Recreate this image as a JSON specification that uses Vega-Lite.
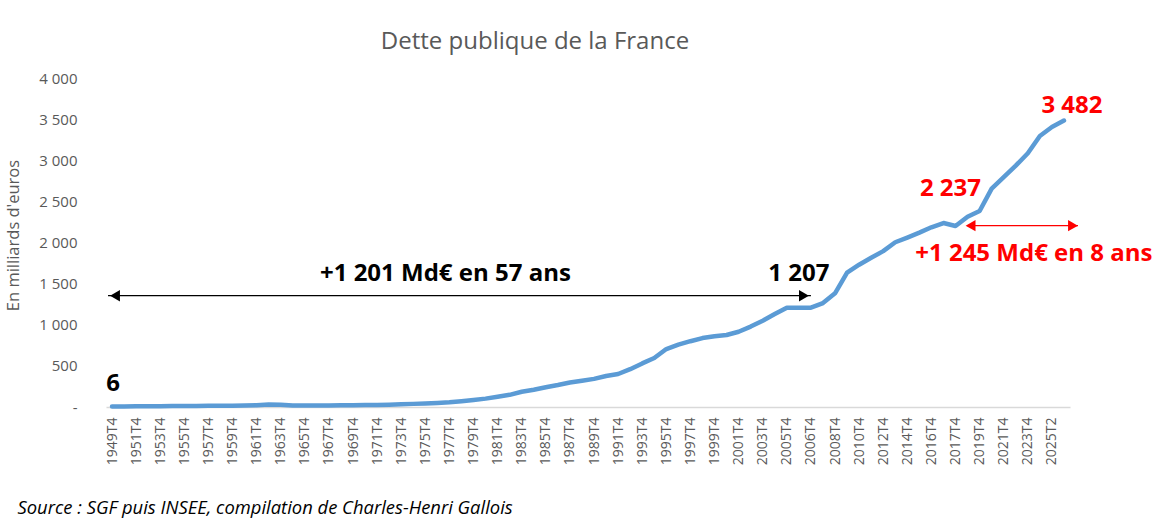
{
  "$schema": "https://vega.github.io/schema/vega-lite/v6.json",
  "width": 964,
  "height": 329,
  "autosize": {"type": "none"},
  "padding": {"left": 106, "top": 78, "right": 91, "bottom": 115},
  "background": "white",
  "config": {"view": {"stroke": null}, "font": "Open Sans"},
  "title": {
    "text": "Dette publique de la France",
    "font": "Open Sans",
    "fontSize": 24,
    "fontWeight": "normal",
    "color": "#595959",
    "anchor": "middle",
    "dx": -53,
    "offset": 17
  },
  "datasets": {
    "dette": [
      {"periode": "1949T4", "valeur": 6},
      {"periode": "1950T4", "valeur": 7},
      {"periode": "1951T4", "valeur": 8},
      {"periode": "1952T4", "valeur": 9},
      {"periode": "1953T4", "valeur": 10},
      {"periode": "1954T4", "valeur": 11},
      {"periode": "1955T4", "valeur": 12},
      {"periode": "1956T4", "valeur": 13},
      {"periode": "1957T4", "valeur": 14},
      {"periode": "1958T4", "valeur": 15},
      {"periode": "1959T4", "valeur": 16},
      {"periode": "1960T4", "valeur": 18},
      {"periode": "1961T4", "valeur": 22},
      {"periode": "1962T4", "valeur": 30},
      {"periode": "1963T4", "valeur": 26},
      {"periode": "1964T4", "valeur": 18},
      {"periode": "1965T4", "valeur": 17},
      {"periode": "1966T4", "valeur": 18},
      {"periode": "1967T4", "valeur": 19},
      {"periode": "1968T4", "valeur": 20},
      {"periode": "1969T4", "valeur": 22},
      {"periode": "1970T4", "valeur": 23},
      {"periode": "1971T4", "valeur": 24},
      {"periode": "1972T4", "valeur": 28},
      {"periode": "1973T4", "valeur": 33},
      {"periode": "1974T4", "valeur": 38},
      {"periode": "1975T4", "valeur": 44},
      {"periode": "1976T4", "valeur": 50},
      {"periode": "1977T4", "valeur": 58},
      {"periode": "1978T4", "valeur": 70},
      {"periode": "1979T4", "valeur": 85},
      {"periode": "1980T4", "valeur": 102},
      {"periode": "1981T4", "valeur": 125},
      {"periode": "1982T4", "valeur": 148},
      {"periode": "1983T4", "valeur": 185},
      {"periode": "1984T4", "valeur": 210},
      {"periode": "1985T4", "valeur": 240},
      {"periode": "1986T4", "valeur": 267},
      {"periode": "1987T4", "valeur": 298},
      {"periode": "1988T4", "valeur": 320},
      {"periode": "1989T4", "valeur": 342},
      {"periode": "1990T4", "valeur": 377},
      {"periode": "1991T4", "valeur": 401},
      {"periode": "1992T4", "valeur": 460},
      {"periode": "1993T4", "valeur": 530},
      {"periode": "1994T4", "valeur": 595},
      {"periode": "1995T4", "valeur": 705},
      {"periode": "1996T4", "valeur": 758},
      {"periode": "1997T4", "valeur": 800},
      {"periode": "1998T4", "valeur": 838},
      {"periode": "1999T4", "valeur": 860},
      {"periode": "2000T4", "valeur": 875},
      {"periode": "2001T4", "valeur": 915},
      {"periode": "2002T4", "valeur": 978},
      {"periode": "2003T4", "valeur": 1049},
      {"periode": "2004T4", "valeur": 1130},
      {"periode": "2005T4", "valeur": 1207},
      {"periode": "2006T2", "valeur": 1207},
      {"periode": "2006T4", "valeur": 1207},
      {"periode": "2007T4", "valeur": 1263},
      {"periode": "2008T4", "valeur": 1382},
      {"periode": "2009T4", "valeur": 1633},
      {"periode": "2010T4", "valeur": 1730},
      {"periode": "2011T4", "valeur": 1815},
      {"periode": "2012T4", "valeur": 1895},
      {"periode": "2013T4", "valeur": 2003},
      {"periode": "2014T4", "valeur": 2060},
      {"periode": "2015T4", "valeur": 2120},
      {"periode": "2016T4", "valeur": 2185},
      {"periode": "2017T2", "valeur": 2237},
      {"periode": "2017T4", "valeur": 2201},
      {"periode": "2018T4", "valeur": 2314},
      {"periode": "2019T4", "valeur": 2383},
      {"periode": "2020T4", "valeur": 2655},
      {"periode": "2021T4", "valeur": 2795},
      {"periode": "2022T4", "valeur": 2935},
      {"periode": "2023T4", "valeur": 3085},
      {"periode": "2024T4", "valeur": 3295},
      {"periode": "2025T2", "valeur": 3405},
      {"periode": "2025T3", "valeur": 3482}
    ],
    "fleches": [
      {"debut": "1949T4", "fin": "2006T4", "niveau": 1353, "groupe": "1949-2006"},
      {"debut": "2018T4", "fin": "2025T3", "niveau": 2205, "groupe": "2017-2025"}
    ],
    "etiquettes": [
      {"periode": "1949T4", "valeur": 6, "texte": "6", "groupe": "1949-2006"},
      {"periode": "2006T4", "valeur": 1207, "texte": "1 207", "groupe": "1949-2006"},
      {"periode": "1977T4", "valeur": 1353, "texte": "+1 201 Md€ en 57 ans", "groupe": "1949-2006"},
      {"periode": "2017T2", "valeur": 2237, "texte": "2 237", "groupe": "2017-2025"},
      {"periode": "2025T3", "valeur": 3482, "texte": "3 482", "groupe": "2017-2025"},
      {"periode": "2023T4", "valeur": 2205, "texte": "+1 245 Md€ en 8 ans", "groupe": "2017-2025"}
    ]
  },
  "encoding": {
    "x": {
      "type": "ordinal",
      "scale": {
        "type": "point",
        "padding": 0.5,
        "domain": ["1949T4","1950T4","1951T4","1952T4","1953T4","1954T4","1955T4","1956T4","1957T4","1958T4","1959T4","1960T4","1961T4","1962T4","1963T4","1964T4","1965T4","1966T4","1967T4","1968T4","1969T4","1970T4","1971T4","1972T4","1973T4","1974T4","1975T4","1976T4","1977T4","1978T4","1979T4","1980T4","1981T4","1982T4","1983T4","1984T4","1985T4","1986T4","1987T4","1988T4","1989T4","1990T4","1991T4","1992T4","1993T4","1994T4","1995T4","1996T4","1997T4","1998T4","1999T4","2000T4","2001T4","2002T4","2003T4","2004T4","2005T4","2006T2","2006T4","2007T4","2008T4","2009T4","2010T4","2011T4","2012T4","2013T4","2014T4","2015T4","2016T4","2017T2","2017T4","2018T4","2019T4","2020T4","2021T4","2022T4","2023T4","2024T4","2025T2","2025T3"]
      }
    }
  },
  "layer": [
    {
      "data": {"name": "dette"},
      "mark": {"type": "line", "color": "#5b9bd5", "strokeWidth": 4.5, "strokeCap": "round", "strokeJoin": "round"},
      "encoding": {
        "x": {
          "field": "periode",
          "type": "ordinal",
          "axis": {
            "values": ["1949T4","1951T4","1953T4","1955T4","1957T4","1959T4","1961T4","1963T4","1965T4","1967T4","1969T4","1971T4","1973T4","1975T4","1977T4","1979T4","1981T4","1983T4","1985T4","1987T4","1989T4","1991T4","1993T4","1995T4","1997T4","1999T4","2001T4","2003T4","2005T4","2006T4","2008T4","2010T4","2012T4","2014T4","2016T4","2017T4","2019T4","2021T4","2023T4","2025T2"],
            "labelAngle": 270,
            "labelAlign": "right",
            "labelBaseline": "middle",
            "labelFont": "Open Sans",
            "labelFontSize": 14,
            "labelColor": "#595959",
            "labelPadding": 10,
            "labelOverlap": false,
            "domainColor": "#d9d9d9",
            "domainWidth": 1.5,
            "ticks": false,
            "tickSize": 0,
            "grid": false,
            "title": "Source : SGF puis INSEE, compilation de Charles-Henri Gallois",
            "titleFont": "Open Sans",
            "titleFontStyle": "italic",
            "titleFontWeight": "normal",
            "titleFontSize": 18.4,
            "titleColor": "#000000",
            "titleAnchor": "start",
            "titleAlign": "left",
            "titleBaseline": "alphabetic",
            "titleX": -89,
            "titleY": 106
          }
        },
        "y": {
          "field": "valeur",
          "type": "quantitative",
          "scale": {"domain": [0, 4000], "nice": false},
          "axis": {
            "values": [0, 500, 1000, 1500, 2000, 2500, 3000, 3500, 4000],
            "labelExpr": "datum.value == 0 ? '-' : replace(format(datum.value, ','), ',', ' ')",
            "domain": false,
            "ticks": false,
            "tickSize": 0,
            "grid": false,
            "labelPadding": 29,
            "labelFont": "Open Sans",
            "labelFontSize": 15,
            "labelColor": "#595959",
            "title": "En milliards d'euros",
            "titleFont": "Open Sans",
            "titleFontSize": 16.5,
            "titleFontWeight": "normal",
            "titleColor": "#595959",
            "titleAngle": 270,
            "titleAlign": "center",
            "titleBaseline": "bottom",
            "titleX": -85,
            "titleY": 157
          }
        }
      }
    },
    {
      "data": {"name": "fleches"},
      "transform": [{"filter": "datum.groupe == '1949-2006'"}],
      "mark": {"type": "rule", "strokeWidth": 1.2, "xOffset": -4},
      "encoding": {
        "x": {"field": "debut", "type": "ordinal"},
        "x2": {"field": "fin"},
        "y": {"field": "niveau", "type": "quantitative"},
        "color": {"field": "groupe", "type": "nominal", "scale": {"domain": ["1949-2006", "2017-2025"], "range": ["#000000", "#ff0000"]}, "legend": null}
      }
    },
    {
      "data": {"name": "fleches"},
      "transform": [{"filter": "datum.groupe == '2017-2025'"}],
      "mark": {"type": "rule", "strokeWidth": 1.2, "x2Offset": 14},
      "encoding": {
        "x": {"field": "debut", "type": "ordinal"},
        "x2": {"field": "fin"},
        "y": {"field": "niveau", "type": "quantitative"},
        "color": {"field": "groupe", "type": "nominal", "legend": null}
      }
    },
    {
      "data": {"name": "fleches"},
      "mark": {"type": "point", "shape": "triangle-left", "filled": true, "opacity": 1, "size": 130, "xOffset": 3},
      "encoding": {
        "x": {"field": "debut", "type": "ordinal"},
        "y": {"field": "niveau", "type": "quantitative"},
        "color": {"field": "groupe", "type": "nominal", "legend": null}
      }
    },
    {
      "data": {"name": "fleches"},
      "transform": [{"filter": "datum.groupe == '1949-2006'"}],
      "mark": {"type": "point", "shape": "triangle-right", "filled": true, "opacity": 1, "size": 130, "xOffset": -7},
      "encoding": {
        "x": {"field": "fin", "type": "ordinal"},
        "y": {"field": "niveau", "type": "quantitative"},
        "color": {"field": "groupe", "type": "nominal", "legend": null}
      }
    },
    {
      "data": {"name": "fleches"},
      "transform": [{"filter": "datum.groupe == '2017-2025'"}],
      "mark": {"type": "point", "shape": "triangle-right", "filled": true, "opacity": 1, "size": 130, "xOffset": 9},
      "encoding": {
        "x": {"field": "fin", "type": "ordinal"},
        "y": {"field": "niveau", "type": "quantitative"},
        "color": {"field": "groupe", "type": "nominal", "legend": null}
      }
    },
    {
      "data": {"name": "etiquettes"},
      "transform": [{"filter": "datum.texte == '6'"}],
      "mark": {"type": "text", "font": "Open Sans", "fontWeight": "bold", "fontSize": 24, "align": "center", "baseline": "middle", "dx": 1, "dy": -23},
      "encoding": {
        "x": {"field": "periode", "type": "ordinal"},
        "y": {"field": "valeur", "type": "quantitative"},
        "text": {"field": "texte"},
        "color": {"field": "groupe", "type": "nominal", "legend": null}
      }
    },
    {
      "data": {"name": "etiquettes"},
      "transform": [{"filter": "datum.texte == '1 207'"}],
      "mark": {"type": "text", "font": "Open Sans", "fontWeight": "bold", "fontSize": 24, "align": "center", "baseline": "middle", "dx": -12, "dy": -34},
      "encoding": {
        "x": {"field": "periode", "type": "ordinal"},
        "y": {"field": "valeur", "type": "quantitative"},
        "text": {"field": "texte"},
        "color": {"field": "groupe", "type": "nominal", "legend": null}
      }
    },
    {
      "data": {"name": "etiquettes"},
      "transform": [{"filter": "datum.texte == '+1 201 Md€ en 57 ans'"}],
      "mark": {"type": "text", "font": "Open Sans", "fontWeight": "bold", "fontSize": 24, "align": "center", "baseline": "middle", "dx": -4, "dy": -22},
      "encoding": {
        "x": {"field": "periode", "type": "ordinal"},
        "y": {"field": "valeur", "type": "quantitative"},
        "text": {"field": "texte"},
        "color": {"field": "groupe", "type": "nominal", "legend": null}
      }
    },
    {
      "data": {"name": "etiquettes"},
      "transform": [{"filter": "datum.texte == '2 237'"}],
      "mark": {"type": "text", "font": "Open Sans", "fontWeight": "bold", "fontSize": 24, "align": "center", "baseline": "middle", "dx": 7, "dy": -34},
      "encoding": {
        "x": {"field": "periode", "type": "ordinal"},
        "y": {"field": "valeur", "type": "quantitative"},
        "text": {"field": "texte"},
        "color": {"field": "groupe", "type": "nominal", "legend": null}
      }
    },
    {
      "data": {"name": "etiquettes"},
      "transform": [{"filter": "datum.texte == '3 482'"}],
      "mark": {"type": "text", "font": "Open Sans", "fontWeight": "bold", "fontSize": 24, "align": "center", "baseline": "middle", "dx": 8, "dy": -15},
      "encoding": {
        "x": {"field": "periode", "type": "ordinal"},
        "y": {"field": "valeur", "type": "quantitative"},
        "text": {"field": "texte"},
        "color": {"field": "groupe", "type": "nominal", "legend": null}
      }
    },
    {
      "data": {"name": "etiquettes"},
      "transform": [{"filter": "datum.texte == '+1 245 Md€ en 8 ans'"}],
      "mark": {"type": "text", "font": "Open Sans", "fontWeight": "bold", "fontSize": 24, "align": "center", "baseline": "middle", "dx": 6, "dy": 28},
      "encoding": {
        "x": {"field": "periode", "type": "ordinal"},
        "y": {"field": "valeur", "type": "quantitative"},
        "text": {"field": "texte"},
        "color": {"field": "groupe", "type": "nominal", "legend": null}
      }
    }
  ]
}
